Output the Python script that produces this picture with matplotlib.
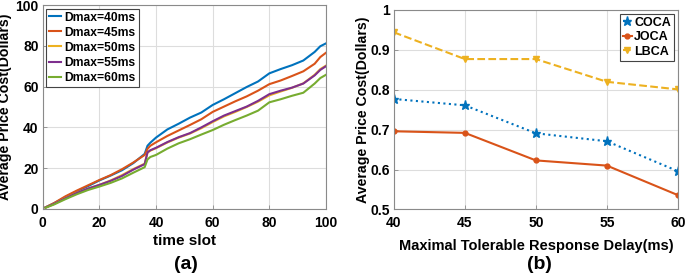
import matplotlib
matplotlib.use('Agg')
import matplotlib.pyplot as plt

plt.rcParams['font.family'] = 'Liberation Sans'
plt.rcParams['font.weight'] = 'bold'

# (a) coste medio acumulado por time slot
t = [1, 4, 8, 12, 16, 20, 24, 28, 32, 36, 37, 38, 40, 44, 48, 52, 56, 60, 64, 68,
     72, 76, 80, 84, 88, 92, 96, 98, 100]
d40 = [0.8, 2.8, 5.8, 8.6, 11.2, 14.0, 16.4, 19.0, 22.5, 27.0, 31.0, 32.5, 35.0, 39.0,
       41.8, 44.8, 47.3, 51.0, 53.8, 56.8, 59.8, 62.5, 66.5, 68.6, 70.5, 72.8, 77.0, 79.8, 81.2]
d45 = [0.8, 2.9, 6.2, 9.0, 11.6, 14.2, 16.6, 19.5, 22.8, 26.5, 29.5, 31.0, 32.7, 35.8,
       38.5, 41.2, 44.0, 47.6, 50.2, 52.8, 55.2, 58.0, 61.2, 63.0, 65.2, 67.5, 71.2, 74.5, 76.6]
d50 = [0.7, 2.5, 5.3, 7.9, 10.0, 11.8, 14.0, 16.6, 19.6, 22.2, 27.6, 28.6, 29.8, 32.6,
       35.0, 37.0, 39.6, 42.6, 45.4, 47.6, 50.0, 52.6, 55.7, 57.6, 59.4, 61.6, 65.8, 68.6, 70.3]
d55 = [0.7, 2.5, 5.2, 7.8, 10.0, 11.8, 13.8, 16.2, 19.3, 22.0, 27.8, 28.8, 30.0, 32.8,
       35.2, 37.2, 40.0, 43.0, 45.8, 48.0, 50.2, 53.0, 56.3, 58.0, 59.5, 61.5, 65.5, 68.2, 70.0]
d60 = [0.6, 2.2, 4.8, 7.2, 9.3, 11.0, 12.8, 15.0, 17.8, 20.5, 24.3, 25.5, 26.5, 29.6,
       32.2, 34.2, 36.5, 38.7, 41.3, 43.6, 45.8, 48.2, 52.3, 53.8, 55.5, 57.0, 61.5, 64.2, 65.8]
etiquetas_a = ['Dmax=40ms', 'Dmax=45ms', 'Dmax=50ms', 'Dmax=55ms', 'Dmax=60ms']

# (b) coste medio frente a retardo maximo
delay = [40, 45, 50, 55, 60]
coca = [0.777, 0.761, 0.691, 0.671, 0.596]
joca = [0.696, 0.692, 0.623, 0.610, 0.536]
lbca = [0.944, 0.877, 0.877, 0.820, 0.801]

# colores estilo matlab
azul = '#0072BD'
rojo = '#D95319'
amarillo = '#EDB120'
morado = '#7E2F8E'
verde = '#77AC30'

fig = plt.figure(figsize=(6.85, 2.76), dpi=100)

def estilo(ax):
	ax.grid(True, color='#dddddd', linewidth=0.8)
	ax.set_axisbelow(True)
	for s in ax.spines.values():
		s.set_color('#8a8a8a')
		s.set_linewidth(0.8)
	ax.tick_params(direction='in', length=3, width=0.6, colors='#8a8a8a',
				   labelcolor='black', labelsize=10)
	ax.tick_params(axis='x', pad=5)
	ax.tick_params(axis='y', pad=3)
	for lbl in ax.get_xticklabels() + ax.get_yticklabels():
		lbl.set_fontweight('bold')

ax1 = fig.add_axes([0.0623, 0.2428, 0.4136, 0.739])
series = [d40, d45, d50, d55, d60]
colores = [azul, rojo, amarillo, morado, verde]
for y, c, lab in zip(series, colores, etiquetas_a):
	ax1.plot(t, y, color=c, linewidth=1.5, label=lab)
ax1.set_xlim(0, 100)
ax1.set_ylim(0, 100)
ax1.set_xticks(range(0, 101, 20))
ax1.set_yticks(range(0, 101, 20))
estilo(ax1)
ax1.set_xlabel('time slot', fontsize=11, fontweight='bold', labelpad=3)
ax1.set_ylabel('Average Price Cost(Dollars)', fontsize=10.2, fontweight='bold', labelpad=2)
leg1 = ax1.legend(loc='upper left', prop={'weight': 'bold', 'size': 8.7},
				  handlelength=1.0, handletextpad=0.25, labelspacing=0.25,
				  borderpad=0.25, borderaxespad=0.3, fancybox=False, framealpha=1)
leg1.get_frame().set_edgecolor('#444444')
leg1.get_frame().set_linewidth(0.8)

ax2 = fig.add_axes([0.575, 0.241, 0.4146, 0.7228])
ax2.plot(delay, coca, color=azul, linestyle=':', linewidth=1.5, marker='*',
		 markersize=6.5, label='COCA')
ax2.plot(delay, joca, color=rojo, linestyle='-', linewidth=1.5, marker='o',
		 markersize=3.5, label='JOCA')
ax2.plot(delay, lbca, color=amarillo, linestyle='--', linewidth=1.5, marker='v',
		 markersize=4.5, label='LBCA')
ax2.set_xlim(40, 60)
ax2.set_ylim(0.5, 1)
ax2.set_xticks(delay)
ax2.set_yticks([0.5, 0.6, 0.7, 0.8, 0.9, 1.0])
ax2.set_yticklabels(['0.5', '0.6', '0.7', '0.8', '0.9', '1'])
estilo(ax2)
ax2.set_xlabel('Maximal Tolerable Response Delay(ms)', fontsize=10.5, fontweight='bold', labelpad=6)
ax2.set_ylabel('Average Price Cost(Dollars)', fontsize=10.2, fontweight='bold', labelpad=0)
leg2 = ax2.legend(loc='upper right', prop={'weight': 'bold', 'size': 9},
				  handlelength=0.7, handletextpad=0.2, labelspacing=0.2,
				  borderpad=0.25, borderaxespad=0.3, fancybox=False, framealpha=1)
leg2.get_frame().set_edgecolor('#444444')
leg2.get_frame().set_linewidth(0.8)

fig.text(0.271, 0.04, '(a)', ha='center', va='center', fontsize=14, fontweight='bold')
fig.text(0.788, 0.04, '(b)', ha='center', va='center', fontsize=14, fontweight='bold')

plt.savefig('out.png', dpi=100)
